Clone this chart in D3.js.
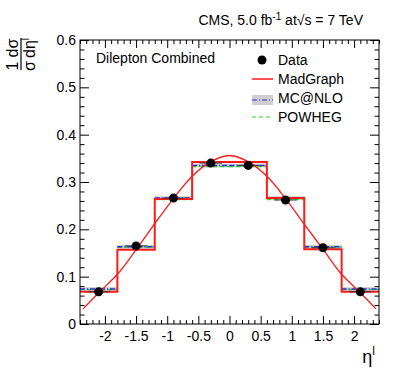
<!DOCTYPE html>
<html><head><meta charset="utf-8">
<script src="https://cdn.jsdelivr.net/npm/d3@7"></script>
<style>
body{margin:0;background:#fff;}
svg{display:block;font-family:"Liberation Sans",Arial,Helvetica,sans-serif;}
</style></head>
<body>
<svg id="c" width="399" height="383"></svg>
<script>
// ---- data ----
const binEdges = [-2.4,-1.8,-1.2,-0.6,0,0.6,1.2,1.8,2.4];
const dataCenters = [-2.1,-1.5,-0.9,-0.3,0.3,0.9,1.5,2.1];
const dataValues = [0.068,0.165,0.266,0.340,0.335,0.262,0.161,0.068];
const dataErrors = [0.006,0.006,0.007,0.008,0.008,0.007,0.006,0.006];
const madgraph = [0.068,0.157,0.264,0.342,0.342,0.266,0.158,0.068];
const mcatnlo = [0.074,0.163,0.266,0.335,0.335,0.266,0.163,0.074];
const mcatnloErr = [0.004,0.004,0.004,0.004,0.004,0.004,0.004,0.004];
const powheg = [0.073,0.162,0.263,0.333,0.333,0.263,0.162,0.073];
const curveX = [-2.35,-2.1,-1.8,-1.5,-1.2,-0.9,-0.6,-0.3,0,0.3,0.6,0.9,1.2,1.5,1.8,2.1,2.35];
const curveY = [0.032,0.066,0.105,0.157,0.212,0.265,0.312,0.343,0.356,0.343,0.312,0.265,0.211,0.158,0.105,0.066,0.032];
const xTicks = [-2,-1.5,-1,-0.5,0,0.5,1,1.5,2];
const yTicks = [0,0.1,0.2,0.3,0.4,0.5,0.6];

const svg = d3.select("#c");
const L=80,R=379,T=40,B=324;
const x = d3.scaleLinear().domain([-2.4,2.4]).range([L,R]);
const y = d3.scaleLinear().domain([0,0.6]).range([B,T]);
const fmt = d => String(d);

// minor ticks
const xMinor = d3.range(-24,25).map(i=>i/10).filter(v=>Math.abs(v*2-Math.round(v*2))>1e-6);
const yMinor = d3.range(0,31).map(i=>i/50).filter(v=>Math.abs(v*10-Math.round(v*10))>1e-6);

function styleAxis(g){ g.select(".domain").remove(); g.selectAll("line").attr("stroke","#000"); g.selectAll("text").attr("font-size","14px").attr("fill","#000").attr("font-family",null);}

svg.append("g").attr("transform",`translate(0,${B})`)
  .call(d3.axisBottom(x).tickValues(xTicks).tickFormat(fmt).tickSizeInner(-8).tickSizeOuter(0).tickPadding(7)).call(styleAxis);
svg.append("g").attr("transform",`translate(0,${B})`)
  .call(d3.axisBottom(x).tickValues(xMinor).tickFormat("").tickSizeInner(-4).tickSizeOuter(0)).call(styleAxis);
svg.append("g").attr("transform",`translate(0,${T})`)
  .call(d3.axisTop(x).tickValues(xTicks).tickFormat("").tickSizeInner(-8).tickSizeOuter(0)).call(styleAxis);
svg.append("g").attr("transform",`translate(0,${T})`)
  .call(d3.axisTop(x).tickValues(xMinor).tickFormat("").tickSizeInner(-4).tickSizeOuter(0)).call(styleAxis);
svg.append("g").attr("transform",`translate(${L},0)`)
  .call(d3.axisLeft(y).tickValues(yTicks).tickFormat(fmt).tickSizeInner(-9).tickSizeOuter(0).tickPadding(4)).call(styleAxis);
svg.append("g").attr("transform",`translate(${L},0)`)
  .call(d3.axisLeft(y).tickValues(yMinor).tickFormat("").tickSizeInner(-4.5).tickSizeOuter(0)).call(styleAxis);
svg.append("g").attr("transform",`translate(${R},0)`)
  .call(d3.axisRight(y).tickValues(yTicks).tickFormat("").tickSizeInner(-9).tickSizeOuter(0)).call(styleAxis);
svg.append("g").attr("transform",`translate(${R},0)`)
  .call(d3.axisRight(y).tickValues(yMinor).tickFormat("").tickSizeInner(-4.5).tickSizeOuter(0)).call(styleAxis);

const bins = d3.range(8).map(i=>({x0:binEdges[i],x1:binEdges[i+1],i}));

// MC@NLO band
svg.append("g").selectAll("rect").data(bins).join("rect")
  .attr("x",d=>x(d.x0)).attr("width",d=>x(d.x1)-x(d.x0))
  .attr("y",d=>y(mcatnlo[d.i]+mcatnloErr[d.i])).attr("height",d=>y(mcatnlo[d.i]-mcatnloErr[d.i])-y(mcatnlo[d.i]+mcatnloErr[d.i]))
  .attr("fill","#cfcfcf");
// POWHEG
svg.append("g").selectAll("line").data(bins).join("line")
  .attr("x1",d=>x(d.x0)).attr("x2",d=>x(d.x1)).attr("y1",d=>y(powheg[d.i])).attr("y2",d=>y(powheg[d.i]))
  .attr("stroke","#22dd22").attr("stroke-width",1.5).attr("stroke-dasharray","4,3");
// MC@NLO line
svg.append("g").selectAll("line").data(bins).join("line")
  .attr("x1",d=>x(d.x0)).attr("x2",d=>x(d.x1)).attr("y1",d=>y(mcatnlo[d.i])).attr("y2",d=>y(mcatnlo[d.i]))
  .attr("stroke","#2a2aee").attr("stroke-width",1.5).attr("stroke-dasharray","5,2,1,2");

// MadGraph histogram
const stepPts = [];
bins.forEach(d=>{stepPts.push([d.x0,madgraph[d.i]]);stepPts.push([d.x1,madgraph[d.i]]);});
svg.append("path").datum(stepPts)
  .attr("d",d3.line().x(d=>x(d[0])).y(d=>y(d[1])))
  .attr("fill","none").attr("stroke","#ff1a1a").attr("stroke-width",2);

// fit curve
svg.append("path").datum(curveX.map((v,i)=>[v,curveY[i]]))
  .attr("d",d3.line().x(d=>x(d[0])).y(d=>y(d[1])).curve(d3.curveCatmullRom))
  .attr("fill","none").attr("stroke","#ff1a1a").attr("stroke-width",1.3);

// data points
const dg = svg.append("g");
dataCenters.forEach((c,i)=>{
  dg.append("line").attr("x1",x(c-0.18)).attr("x2",x(c+0.18)).attr("y1",y(dataValues[i])).attr("y2",y(dataValues[i])).attr("stroke","#333").attr("stroke-width",1);
  dg.append("line").attr("x1",x(c)).attr("x2",x(c)).attr("y1",y(dataValues[i]-dataErrors[i])).attr("y2",y(dataValues[i]+dataErrors[i])).attr("stroke","#000").attr("stroke-width",1);
  dg.append("circle").attr("cx",x(c)).attr("cy",y(dataValues[i])).attr("r",4.5).attr("fill","#000");
});

// frame
svg.append("rect").attr("x",L).attr("y",T).attr("width",R-L).attr("height",B-T).attr("fill","none").attr("stroke","#000").attr("stroke-width",1);

// title
const tt = svg.append("text").attr("x",363).attr("y",25).attr("text-anchor","end").attr("font-size","14px");
tt.append("tspan").text("CMS, 5.0 fb");
tt.append("tspan").attr("font-size","10px").attr("dy",-5).text("-1");
tt.append("tspan").attr("dy",5).text(" at\u221As = 7 TeV");

svg.append("text").attr("x",96).attr("y",63).attr("font-size","14px").text("Dilepton Combined");

// legend
const lg = svg.append("g").attr("font-size","14px");
lg.append("circle").attr("cx",262).attr("cy",60).attr("r",4.5).attr("fill","#000");
lg.append("text").attr("x",278).attr("y",65).text("Data");
lg.append("line").attr("x1",252).attr("x2",273).attr("y1",79).attr("y2",79).attr("stroke","#ff1a1a").attr("stroke-width",1.5);
lg.append("text").attr("x",278).attr("y",84).text("MadGraph");
lg.append("rect").attr("x",252).attr("y",95).attr("width",21).attr("height",10).attr("fill","#cfcfcf");
lg.append("line").attr("x1",252).attr("x2",273).attr("y1",100).attr("y2",100).attr("stroke","#2a2aee").attr("stroke-width",1.2).attr("stroke-dasharray","5,2,1,2");
lg.append("text").attr("x",278).attr("y",103).text("MC@NLO");
lg.append("line").attr("x1",252).attr("x2",273).attr("y1",117).attr("y2",117).attr("stroke","#22dd22").attr("stroke-width",1.2).attr("stroke-dasharray","4,3");
lg.append("text").attr("x",278).attr("y",122).text("POWHEG");

// x title
const xt = svg.append("text").attr("x",375).attr("y",363).attr("text-anchor","end").attr("font-size","18px");
xt.append("tspan").text("\u03B7");
xt.append("tspan").attr("font-size","12px").attr("dy",-8).text("l");

// y title (rotated fraction)
const yt = svg.append("g").attr("transform","translate(21,54) rotate(-90)").attr("font-size","16px").attr("text-anchor","middle");
yt.append("line").attr("x1",-16).attr("x2",16).attr("y1",0).attr("y2",0).attr("stroke","#000").attr("stroke-width",1.2);
yt.append("text").attr("x",-12).attr("y",-3).text("1");
yt.append("text").attr("x",6).attr("y",-3).text("d\u03C3");
yt.append("text").attr("x",-12).attr("y",14).text("\u03C3");
const den = yt.append("text").attr("x",6).attr("y",14);
den.append("tspan").text("d\u03B7");
den.append("tspan").attr("font-size","10px").attr("dy",-6).text("l");
</script>
</body></html>
